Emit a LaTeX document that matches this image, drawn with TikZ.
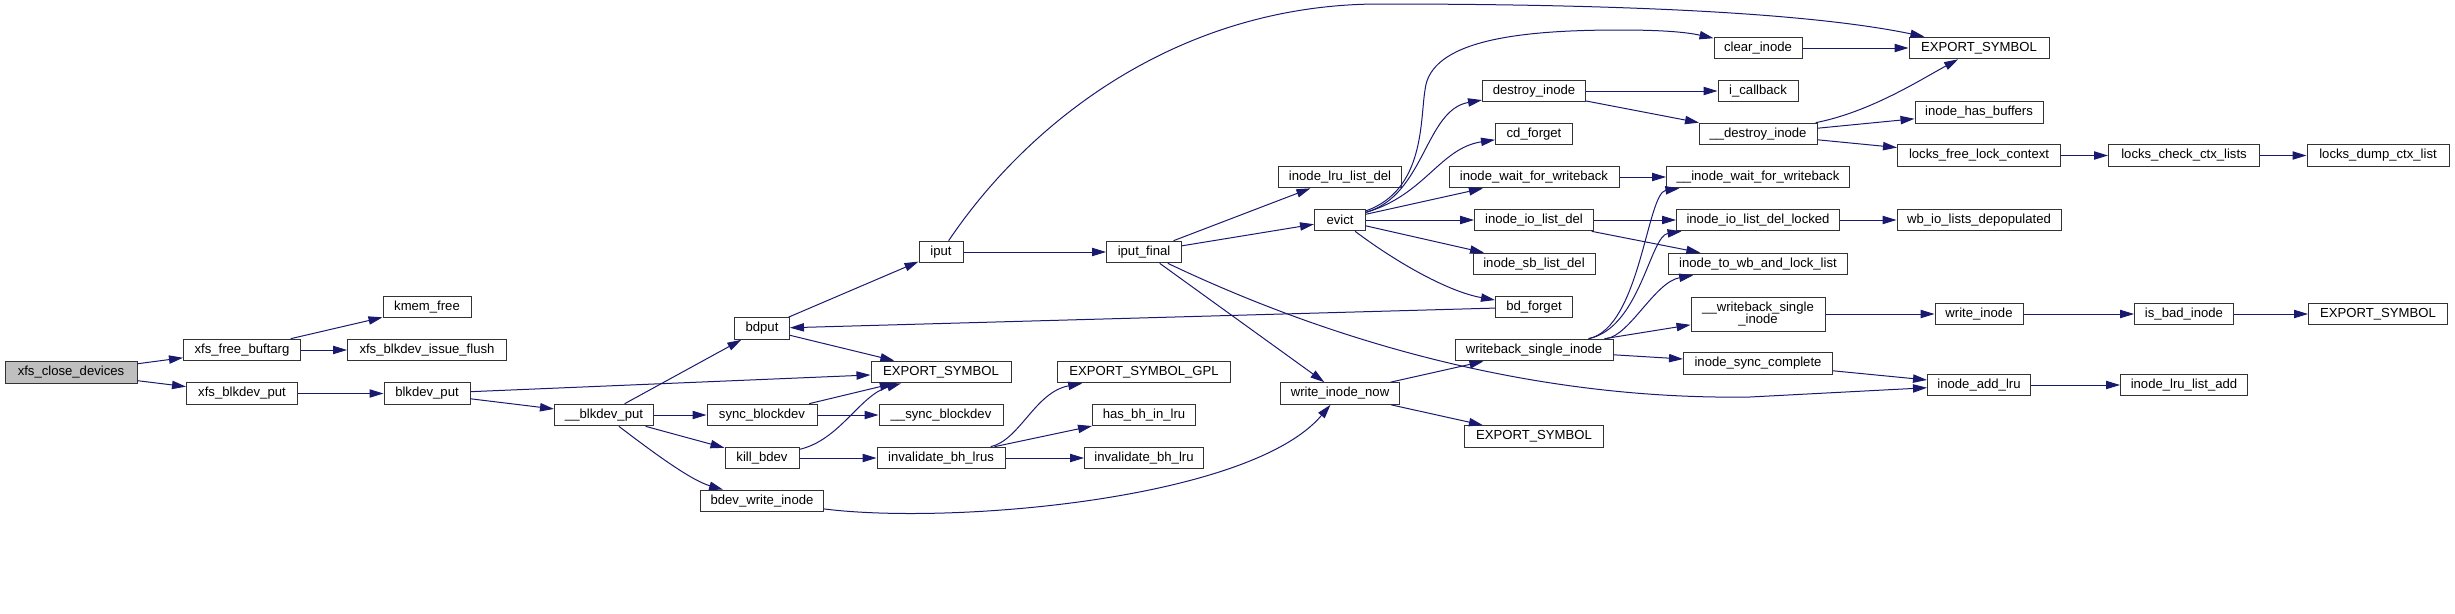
\documentclass[tikz,border=0pt]{standalone}
\usepackage{fontspec}
\setmainfont{Liberation Sans}
\usepackage{tikz}
\usetikzlibrary{arrows.meta}
\definecolor{cgedge}{RGB}{25,25,112}
\definecolor{cgroot}{RGB}{191,191,191}

\begin{document}
\begin{tikzpicture}[
  x=0.3mm, y=-0.3mm,
  >={Triangle[length=4.2mm, width=2.5mm]},
  every node/.style={font=\fontsize{11.2}{12}\selectfont},
  fn/.style={draw=black!80, line width=0.3mm, inner sep=0pt,
             minimum height=6.5mm, minimum width=#1*0.3mm},
  root/.style={fn=#1, fill=cgroot},
  call/.style={->, draw=cgedge, line width=0.3mm}
]
\useasboundingbox (0,0) rectangle (2455,613);

%% ── COLUMN 1-3 ─────────────────────────────────────────────────
\node[root=132] (xcd) at (71,372.5) {xfs\_close\_devices};
\node[fn=117] (xfb) at (242,350) {xfs\_free\_buftarg};
\node[fn=111] (xbp) at (242,393.5) {xfs\_blkdev\_put};
\node[fn=88]  (kmf) at (427,307) {kmem\_free};
\node[fn=159] (xif) at (427,350) {xfs\_blkdev\_issue\_flush};
\node[fn=86]  (bkp) at (427,393.5) {blkdev\_put};

%% ── COLUMN 4-5 ─────────────────────────────────────────────────
\node[fn=99]  (bbp) at (604,415) {\_\_blkdev\_put};
\node[fn=55]  (bdp) at (762,328.5) {bdput};
\node[fn=110] (syb) at (762,415) {sync\_blockdev};
\node[fn=74]  (klb) at (762,458) {kill\_bdev};
\node[fn=123] (bwi) at (762,501) {bdev\_write\_inode};

%% ── COLUMN 6-7 ─────────────────────────────────────────────────
\node[fn=44]  (ipt) at (941,252) {iput};
\node[fn=140] (esM) at (941,372) {EXPORT\_SYMBOL};
\node[fn=124] (ssb) at (941,415) {\_\_sync\_blockdev};
\node[fn=128] (ibs) at (941,458) {invalidate\_bh\_lrus};
\node[fn=75]  (ipf) at (1144,252) {iput\_final};
\node[fn=173] (gpl) at (1144,372) {EXPORT\_SYMBOL\_GPL};
\node[fn=103] (hbl) at (1144,415) {has\_bh\_in\_lru};
\node[fn=119] (ibl) at (1144,458) {invalidate\_bh\_lru};

%% ── COLUMN 8-9 ─────────────────────────────────────────────────
\node[fn=123] (lld) at (1340,177) {inode\_lru\_list\_del};
\node[fn=51]  (evc) at (1340,220) {evict};
\node[fn=119] (win) at (1340,393.5) {write\_inode\_now};
\node[fn=103] (dsi) at (1534,91) {destroy\_inode};
\node[fn=77]  (cdf) at (1534,134) {cd\_forget};
\node[fn=170] (iww) at (1534,177) {inode\_wait\_for\_writeback};
\node[fn=119] (ild) at (1534,220) {inode\_io\_list\_del};
\node[fn=122] (isd) at (1534,264) {inode\_sb\_list\_del};
\node[fn=77]  (bdf) at (1534,307) {bd\_forget};
\node[fn=158] (wsi) at (1534,350) {writeback\_single\_inode};
\node[fn=139] (esB) at (1534,436.5) {EXPORT\_SYMBOL};

%% ── COLUMN 10 ──────────────────────────────────────────────────
\node[fn=88]  (cli) at (1758,48) {clear\_inode};
\node[fn=80]  (icb) at (1758,91) {i\_callback};
\node[fn=118] (ddi) at (1758,134) {\_\_destroy\_inode};
\node[fn=183] (iwf) at (1758,177) {\_\_inode\_wait\_for\_writeback};
\node[fn=163] (idl) at (1758,220) {inode\_io\_list\_del\_locked};
\node[fn=179] (iwl) at (1758,264) {inode\_to\_wb\_and\_lock\_list};
\node[fn=134, minimum height=10.2mm, align=center,
      font=\fontsize{11.2}{10.8}\selectfont] (xws) at (1758,314)
  {\_\_writeback\_single\\\_inode};
\node[fn=149] (isc) at (1758,363.5) {inode\_sync\_complete};

%% ── COLUMN 11-13 ───────────────────────────────────────────────
\node[fn=140] (esT) at (1979,48) {EXPORT\_SYMBOL};
\node[fn=128] (ihb) at (1979,112.5) {inode\_has\_buffers};
\node[fn=163] (lfl) at (1979,155.5) {locks\_free\_lock\_context};
\node[fn=164] (wbd) at (1979,220) {wb\_io\_lists\_depopulated};
\node[fn=88]  (wri) at (1979,314) {write\_inode};
\node[fn=103] (ial) at (1979,385) {inode\_add\_lru};
\node[fn=151] (lcc) at (2184,155.5) {locks\_check\_ctx\_lists};
\node[fn=99]  (ibi) at (2184,314) {is\_bad\_inode};
\node[fn=127] (lla) at (2184,385) {inode\_lru\_list\_add};
\node[fn=142] (ldc) at (2378,155.5) {locks\_dump\_ctx\_list};
\node[fn=139] (esR) at (2378,314) {EXPORT\_SYMBOL};

%% ── CALLS ──────────────────────────────────────────────────────
\draw[call] (xcd) -- (xfb);
\draw[call] (xcd) -- (xbp);
\draw[call] (xfb) -- (kmf);
\draw[call] (xfb) -- (xif);
\draw[call] (xbp) -- (bkp);
\draw[call] (bkp) -- (bbp);
\draw[call] (bkp) -- (esM);
\draw[call] (bbp) -- (bdp);
\draw[call] (bbp) -- (syb);
\draw[call] (bbp) -- (klb);
\draw[call] (bbp) .. controls (650,450) and (690,480) .. (bwi);
\draw[call] (bdp) -- (ipt);
\draw[call] (bdp) -- (esM);
\draw[call] (syb) -- (esM);
\draw[call] (syb) -- (ssb);
\draw[call] (klb) .. controls (840,440) and (860,395) .. (esM);
\draw[call] (klb) -- (ibs);
\draw[call] (ibs) .. controls (1020,440) and (1035,392) .. (gpl);
\draw[call] (ibs) -- (hbl);
\draw[call] (ibs) -- (ibl);
\draw[call] (bwi) .. controls (950,525) and (1250,500) .. (win);

%% iput and iput_final
\draw[call] (ipt) -- (ipf);
\draw[call] (ipt) .. controls (1030,120) and (1180,4) .. (1380,4)
  .. controls (1650,4) and (1820,15) .. (esT);
\draw[call] (ipf) -- (lld);
\draw[call] (ipf) -- (evc);
\draw[call] (ipf) -- (win);
\draw[call] (ipf) .. controls (1350,350) and (1550,400) .. (1750,397)
  -- (ial);

%% evict
\draw[call] (evc) .. controls (1425,190) and (1420,120) .. (1425,90)
  .. controls (1430,40) and (1520,30) .. (1620,30)
  .. controls (1670,30) and (1690,33) .. (cli);
\draw[call] (evc) .. controls (1425,195) and (1425,110) .. (dsi);
\draw[call] (evc) .. controls (1425,195) and (1440,148) .. (cdf);
\draw[call] (evc) -- (iww);
\draw[call] (evc) -- (ild);
\draw[call] (evc) -- (isd);
\draw[call] (evc) .. controls (1400,265) and (1450,292) .. (bdf);
\draw[call] (bdf) -- (bdp);

%% destroy_inode and friends
\draw[call] (dsi) -- (icb);
\draw[call] (dsi) -- (ddi);
\draw[call] (cli) -- (esT);
\draw[call] (ddi) .. controls (1870,112) and (1920,80) .. (esT);
\draw[call] (ddi) -- (ihb);
\draw[call] (ddi) -- (lfl);
\draw[call] (lfl) -- (lcc);
\draw[call] (lcc) -- (ldc);

%% writeback
\draw[call] (iww) -- (iwf);
\draw[call] (ild) -- (idl);
\draw[call] (ild) -- (iwl);
\draw[call] (idl) -- (wbd);
\draw[call] (win) -- (wsi);
\draw[call] (win) -- (esB);
\draw[call] (wsi) .. controls (1640,328) and (1647,193) .. (iwf);
\draw[call] (wsi) .. controls (1640,328) and (1650,236) .. (idl);
\draw[call] (wsi) .. controls (1630,335) and (1655,282) .. (iwl);
\draw[call] (wsi) -- (xws);
\draw[call] (wsi) -- (isc);
\draw[call] (xws) -- (wri);
\draw[call] (wri) -- (ibi);
\draw[call] (ibi) -- (esR);
\draw[call] (isc) -- (ial);
\draw[call] (ial) -- (lla);

\end{tikzpicture}
\end{document}
